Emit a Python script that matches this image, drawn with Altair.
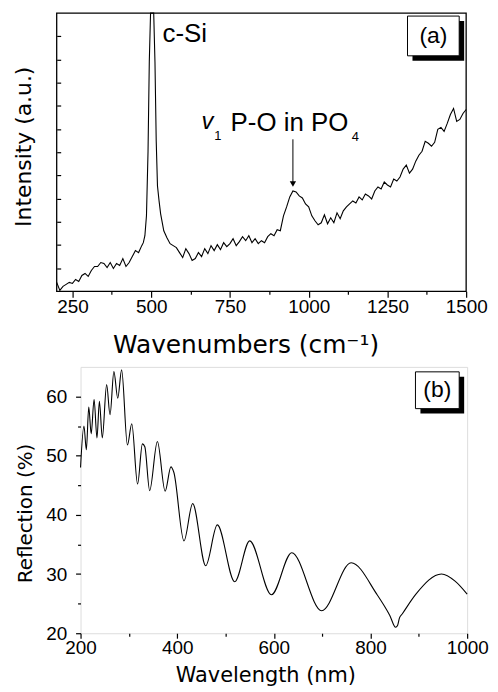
import altair as alt
import pandas as pd

# ---------------- data ----------------
raman_wn = [200, 210, 220, 230, 240, 250, 260, 270, 280, 290, 300, 310, 320, 330, 340,
            350, 360, 370, 380, 390, 400, 410, 420, 430, 440, 450, 460, 470,
            475, 480, 485, 490, 494, 498, 503, 508, 512, 516, 520, 525, 530,
            540, 550, 560, 570, 580, 590, 600, 610, 620, 630,
            640, 650, 660, 670, 680, 690, 700, 710, 720, 730,
            740, 750, 760, 770, 780, 790, 800, 810, 820, 830,
            840, 850, 860, 870, 880, 890, 900, 910, 920, 930,
            940, 950, 960, 970, 980, 990, 1000, 1010, 1020, 1030,
            1040, 1050, 1060, 1070, 1080, 1090, 1100, 1110, 1120, 1130,
            1140, 1150, 1160, 1170, 1180, 1190, 1200, 1210, 1220, 1230,
            1240, 1250, 1260, 1270, 1280, 1290, 1300, 1310, 1320, 1330,
            1340, 1350, 1360, 1370, 1380, 1390, 1400, 1410, 1420, 1430,
            1440, 1450, 1460, 1470, 1480, 1490, 1500]
raman_int = [9, 1, 5, 7, 9, 8, 12, 10, 16, 18, 15, 21, 25, 25, 29,
             28, 24, 29, 23, 28, 26, 33, 25, 29, 35, 41, 39, 46,
             49, 56, 76, 141, 231, 500, 900, 500, 231, 151, 106, 91, 78,
             61, 54, 48, 46, 44, 39, 34, 43, 38, 31,
             33, 39, 35, 43, 38, 46, 41, 47, 42, 49,
             45, 48, 53, 46, 50, 55, 51, 56, 49, 53,
             48, 51, 49, 55, 58, 56, 62, 61, 76, 85,
             95, 101, 100, 96, 94, 88, 85, 76, 71, 67,
             69, 77, 68, 74, 69, 79, 73, 81, 85, 88,
             91, 89, 95, 92, 98, 96, 93, 101, 105, 103,
             110, 107, 105, 113, 111, 115, 123, 127, 119, 123,
             131, 137, 141, 151, 149, 146, 150, 163, 165, 161,
             169, 178, 184, 171, 173, 179, 183]

refl_wl = [200, 207, 212, 217, 222, 228, 234, 239, 245, 254, 261, 269, 277, 285,
           297, 306, 318, 328, 333, 343, 359, 375, 387, 393, 414, 432, 459, 483,
           519, 550, 595, 637, 699, 760, 813, 840, 852, 856, 860, 866, 894, 947,
           975, 1000]
refl_pct = [48.0, 55.0, 51.0, 58.2, 53.7, 59.5, 53.0, 59.2, 53.0, 62.0, 56.9, 64.2, 59.7, 64.5,
            51.8, 55.4, 45.2, 52.0, 51.5, 44.1, 52.4, 44.0, 48.1, 47.2, 35.6, 41.9, 31.4, 38.3,
            28.7, 35.6, 26.5, 33.6, 23.8, 31.9, 26.6, 23.0, 21.0, 21.3, 22.6, 23.3, 26.6, 30.0,
            28.8, 26.6]

top_x_major = [250, 500, 750, 1000, 1250, 1500]
top_x_minor = [375, 625, 875, 1125, 1375]
top_y_ticks = [23.3, 46.7, 70, 93.3, 116.7, 140, 163.3, 186.7, 210, 233.3, 256.7]
bot_x_major = [200, 400, 600, 800, 1000]
bot_x_minor = [300, 500, 700, 900]
bot_y_major = [20, 30, 40, 50, 60]
bot_y_minor = [25, 35, 45, 55]

# annotations (data coordinates of panel a)
ann_text = ["c-Si", "P-O in PO"]
ann_x = [536, 752]
ann_y = [251, 161]
sub_text = ["1", "4"]
sub_x = [700, 1137]
sub_y = [152, 151]
arrow_x = [950]
arrow_from = [153]
arrow_to = [108]

TF = "DejaVu Sans"
LF = "Liberation Sans"
SHIFT = 24            # panel (a) starts this many px left of panel (b)
W1, H1 = 388, 280     # drawn width of (a) is W1 + SHIFT
W2, H2 = 389, 268

raman = pd.DataFrame({"wn": raman_wn, "inten": raman_int})
refl = pd.DataFrame({"wl": refl_wl, "R": refl_pct})

ax_common = dict(labelFont=LF, labelColor="black", tickColor="black", tickWidth=1.2,
                 titleFont=TF, titleColor="black", titleFontWeight="normal", grid=False,
                 domain=False, format="d")

xs1 = alt.Scale(domain=[200, 1500], nice=False, zero=False, range=[-SHIFT, W1])
ys1 = alt.Scale(domain=[0, 280], nice=False, zero=False, clamp=True)

line1 = alt.Chart(raman).mark_line(color="black", strokeWidth=1.1).encode(
    x=alt.X("wn:Q", scale=xs1, axis=alt.Axis(orient="bottom", values=top_x_major,
            title="Wavenumbers (cm⁻¹)", tickSize=6, labelFontSize=19, labelPadding=0,
            labelFlush=False, titleFontSize=25, titlePadding=17, titleX=166,
            titleAlign="center", **ax_common)),
    y=alt.Y("inten:Q", scale=ys1, axis=alt.Axis(orient="left", offset=SHIFT, title="Intensity (a.u.)",
            labels=False, ticks=False, titleFontSize=22, titlePadding=21, titleY=134,
            **ax_common)),
)
minor1 = alt.Chart(raman).mark_line(strokeOpacity=0).encode(
    x=alt.X("wn:Q", scale=xs1, axis=alt.Axis(orient="bottom", values=top_x_minor,
            labels=False, title=None, tickSize=3, **ax_common)),
    y=alt.Y("inten:Q", scale=ys1, axis=alt.Axis(orient="right", offset=-(W1 + SHIFT),
            values=top_y_ticks, labels=False, title=None, tickSize=4, **ax_common)),
)

ann_df = pd.DataFrame({"t": ann_text, "x": ann_x, "y": ann_y})
sub_df = pd.DataFrame({"t": sub_text, "x": sub_x, "y": sub_y})
arr_df = pd.DataFrame({"x": arrow_x, "y": arrow_from, "y2": arrow_to})

ann = alt.Chart(ann_df).mark_text(font=LF, fontSize=26, align="left", baseline="alphabetic",
                                   color="black").encode(
    x=alt.X("x:Q", scale=xs1, axis=None), y=alt.Y("y:Q", scale=ys1, axis=None), text="t:N")
vmark = alt.Chart(pd.DataFrame({"t": ["v"], "x": [660], "y": [163]})).mark_text(
    font=LF, fontSize=24, fontStyle="italic", align="left", baseline="alphabetic", color="black").encode(
    x=alt.X("x:Q", scale=xs1, axis=None), y=alt.Y("y:Q", scale=ys1, axis=None), text="t:N")
subs = alt.Chart(sub_df).mark_text(font=LF, fontSize=13, align="left", baseline="alphabetic",
                                   color="black").encode(
    x=alt.X("x:Q", scale=xs1, axis=None), y=alt.Y("y:Q", scale=ys1, axis=None), text="t:N")
arrow = alt.Chart(arr_df).mark_rule(color="black", strokeWidth=1).encode(
    x=alt.X("x:Q", scale=xs1, axis=None), y=alt.Y("y:Q", scale=ys1, axis=None), y2="y2:Q")
head = alt.Chart(arr_df).mark_point(shape="triangle-down", filled=True, color="black", size=40,
                                    opacity=1).encode(
    x=alt.X("x:Q", scale=xs1, axis=None), y=alt.Y("y2:Q", scale=ys1, axis=None))

one = pd.DataFrame({"k": [0]})

frame1 = alt.Chart(one).mark_rect(filled=False, stroke="black", strokeWidth=1.3).encode(
    x=alt.value(-SHIFT), x2=alt.value(W1), y=alt.value(0), y2=alt.value(H1))


def panel_label(txt, bx, by, bw, bh):
    shadow = alt.Chart(one).mark_rect(color="black").encode(
        x=alt.value(bx + 5), x2=alt.value(bx + bw + 5), y=alt.value(by + 5), y2=alt.value(by + bh + 5))
    box = alt.Chart(one).mark_rect(fill="white", stroke="black", strokeWidth=1).encode(
        x=alt.value(bx), x2=alt.value(bx + bw), y=alt.value(by), y2=alt.value(by + bh))
    lab = alt.Chart(one).mark_text(text=txt, font=LF, fontSize=23, color="black").encode(
        x=alt.value(bx + bw / 2), y=alt.value(by + bh / 2))
    return [shadow, box, lab]


top = alt.layer(line1, minor1, ann, vmark, subs, arrow, head, frame1,
                *panel_label("(a)", 329, 3, 52, 40)).resolve_axis(
    x="independent", y="independent").properties(
    width=W1, height=H1, view=alt.ViewBackground(strokeOpacity=0))

xs2 = alt.Scale(domain=[200, 1000], nice=False, zero=False)
ys2 = alt.Scale(domain=[20, 65], nice=False, zero=False)

line2 = alt.Chart(refl).mark_line(color="black", strokeWidth=1.1, interpolate="monotone").encode(
    x=alt.X("wl:Q", scale=xs2, axis=alt.Axis(orient="bottom", values=bot_x_major,
            title="Wavelength (nm)", tickSize=5, labelFontSize=19, labelPadding=0,
            labelFlush=False, titleFontSize=21, titlePadding=8, titleX=186,
            titleAlign="center", **ax_common)),
    y=alt.Y("R:Q", scale=ys2, axis=alt.Axis(orient="left", values=bot_y_major,
            title="Reflection (%)", tickSize=5, labelFontSize=19, labelPadding=9,
            titleFontSize=20, titlePadding=10, titleY=147, **ax_common)),
)
minor2 = alt.Chart(refl).mark_line(strokeOpacity=0).encode(
    x=alt.X("wl:Q", scale=xs2, axis=alt.Axis(orient="bottom", values=bot_x_minor,
            labels=False, title=None, tickSize=3, **ax_common)),
    y=alt.Y("R:Q", scale=ys2, axis=alt.Axis(orient="left", values=bot_y_minor,
            labels=False, title=None, tickSize=3, **ax_common)),
)

bottom = alt.layer(line2, minor2, *panel_label("(b)", 337, 5, 44, 37)).resolve_axis(
    x="independent", y="independent").properties(width=W2, height=H2)

chart = alt.concat(top, bottom, columns=1, spacing=8).properties(
    padding={"left": 5, "top": 0, "right": 0, "bottom": 0}
).configure_view(stroke="black", strokeWidth=1.3).configure(background="white")

chart.save("out.html", embed_options={"renderer": "svg", "actions": False})
